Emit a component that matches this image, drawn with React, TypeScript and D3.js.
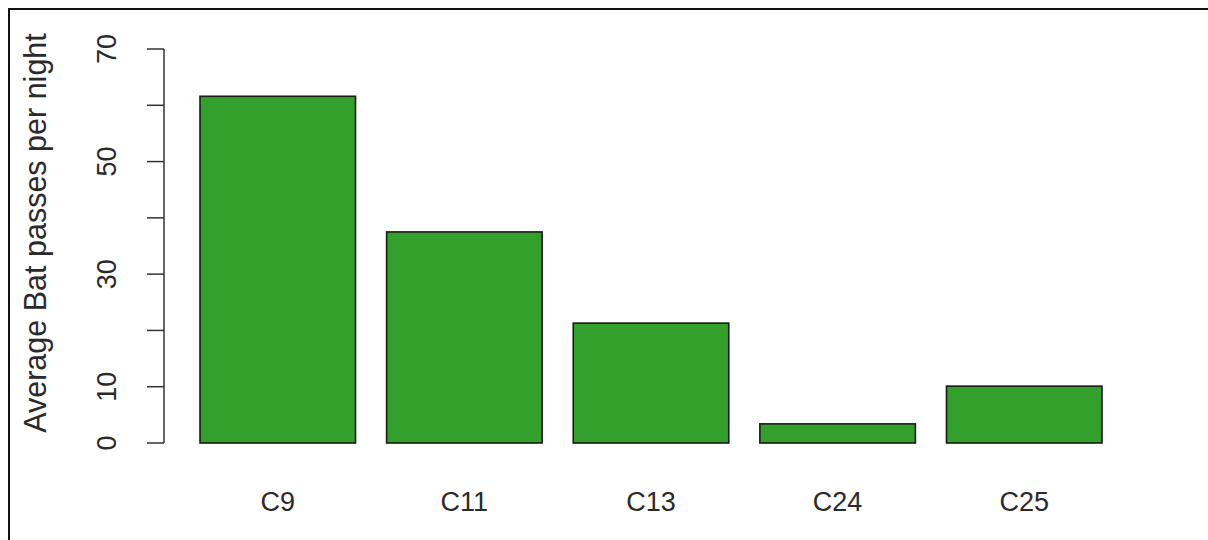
import React from "react";
import * as d3 from "d3";

const categories = ["C9", "C11", "C13", "C24", "C25"];
const values = [61.6, 37.5, 21.3, 3.4, 10.1];
const yTicks = [0, 10, 20, 30, 40, 50, 60, 70];
const yTickLabels = [0, 10, 30, 50, 70];
const yTitle = "Average Bat passes per night";

const W = 1208;
const H = 540;
const FONT = "'Liberation Sans', Arial, sans-serif";

export default function App() {
  const y = d3.scaleLinear().domain([0, 70]).range([443, 49]);
  const x = d3
    .scaleBand<string>()
    .domain(categories)
    .range([200, 1102])
    .paddingInner(0.1667)
    .paddingOuter(0);
  const axisX = 164;
  return (
    <svg
      width={W}
      height={H}
      style={{ position: "absolute", left: 0, top: 0, background: "#fff" }}
    >
      <rect x={0} y={0} width={W} height={H} fill="#fff" />
      <rect
        x={9}
        y={9}
        width={W + 20}
        height={H + 20}
        fill="none"
        stroke="#111"
        strokeWidth={2}
      />
      {categories.map((c, i) => (
        <rect
          key={c}
          x={x(c)}
          y={y(values[i])}
          width={x.bandwidth()}
          height={y(0) - y(values[i])}
          fill="#33A02C"
          stroke="#1a1a1a"
          strokeWidth={1.6}
        />
      ))}
      <line
        x1={axisX}
        x2={axisX}
        y1={y(0)}
        y2={y(70)}
        stroke="#333"
        strokeWidth={1.5}
      />
      {yTicks.map((t) => (
        <line
          key={t}
          x1={axisX - 17}
          x2={axisX}
          y1={y(t)}
          y2={y(t)}
          stroke="#333"
          strokeWidth={1.5}
        />
      ))}
      {yTickLabels.map((t) => (
        <text
          key={t}
          transform={`translate(116,${y(t)}) rotate(-90)`}
          textAnchor="middle"
          fontFamily={FONT}
          fontSize={27}
          fill="#2a2a2a"
        >
          {t}
        </text>
      ))}
      {categories.map((c) => (
        <text
          key={c}
          x={(x(c) as number) + x.bandwidth() / 2}
          y={511}
          textAnchor="middle"
          fontFamily={FONT}
          fontSize={27}
          fill="#2a2a2a"
        >
          {c}
        </text>
      ))}
      <text
        transform={`translate(46,233) rotate(-90)`}
        textAnchor="middle"
        fontFamily={FONT}
        fontSize={30.5}
        fill="#2a2a2a"
      >
        {yTitle}
      </text>
    </svg>
  );
}
